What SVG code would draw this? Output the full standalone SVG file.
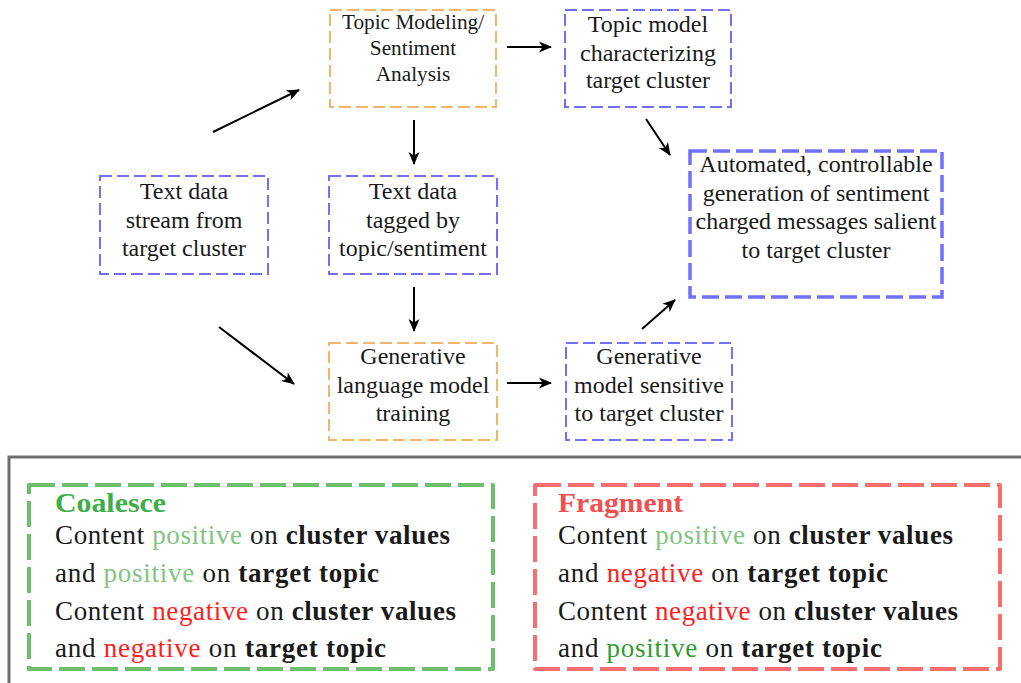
<svg xmlns="http://www.w3.org/2000/svg" width="1021" height="683" viewBox="0 0 1021 683">
<defs>
<marker id="arr" markerUnits="userSpaceOnUse" markerWidth="14" markerHeight="12" refX="12" refY="6" orient="auto">
<path d="M0,0.5 L13,6 L0,11.5 L3.5,6 Z" fill="#000"/>
</marker>
</defs>
<style>
text{font-family:'Liberation Serif','DejaVu Serif',serif}
.t{fill:#1a1a1a;text-anchor:middle}
.s24{font-size:24px}
.s20{font-size:21.3px}
.orange{fill:none;stroke:#f5b46c;stroke-width:2;stroke-dasharray:12 5}
.blue{fill:none;stroke:#7070f8;stroke-width:2;stroke-dasharray:12 5}
.blue3{fill:none;stroke:#7070f8;stroke-width:3.5;stroke-dasharray:17 6}
.con line{stroke:#000;stroke-width:2;marker-end:url(#arr)}
.b{font-size:27px;fill:#1a1a1a}
.bold{font-weight:bold}
.pos{fill:#80c480}
.pos2{fill:#2f9a2f}
.neg{fill:#ff2020}
</style>
<rect width="1021" height="683" fill="#fff"/>

<g id="n_topicmod">
<rect class="orange" x="330" y="10" width="166" height="97"/>
<text class="t s20" x="413" y="29">Topic Modeling/</text>
<text class="t s20" x="413" y="55">Sentiment</text>
<text class="t s20" x="413" y="81">Analysis</text>
</g>
<g id="n_topicmodel">
<rect class="blue" x="565" y="10" width="166" height="97"/>
<text class="t s24" x="648" y="32">Topic model</text>
<text class="t s24" x="648" y="61">characterizing</text>
<text class="t s24" x="648" y="88">target cluster</text>
</g>
<g id="n_stream">
<rect class="blue" x="100" y="176" width="168" height="98"/>
<text class="t s24" x="184" y="199">Text data</text>
<text class="t s24" x="184" y="228">stream from</text>
<text class="t s24" x="184" y="256">target cluster</text>
</g>
<g id="n_tagged">
<rect class="blue" x="329" y="176" width="168" height="98"/>
<text class="t s24" x="413" y="199">Text data</text>
<text class="t s24" x="413" y="228">tagged by</text>
<text class="t s24" x="413" y="256">topic/sentiment</text>
</g>
<g id="n_genlm">
<rect class="orange" x="329" y="343" width="168" height="97"/>
<text class="t s24" x="413" y="364">Generative</text>
<text class="t s24" x="413" y="393">language model</text>
<text class="t s24" x="413" y="421">training</text>
</g>
<g id="n_gensens">
<rect class="blue" x="566" y="343" width="166" height="97"/>
<text class="t s24" x="649" y="364">Generative</text>
<text class="t s24" x="649" y="393">model sensitive</text>
<text class="t s24" x="649" y="421">to target cluster</text>
</g>
<g id="n_auto">
<rect class="blue3" x="690" y="151" width="252" height="146"/>
<text class="t s24" x="816" y="172">Automated, controllable</text>
<text class="t s24" x="816" y="201">generation of sentiment</text>
<text class="t s24" x="816" y="229">charged messages salient</text>
<text class="t s24" x="816" y="258">to target cluster</text>
</g>

<g id="connectors" class="con">
<line x1="213" y1="132" x2="299" y2="90"/>
<line x1="219" y1="327" x2="294" y2="384"/>
<line x1="507" y1="47" x2="551" y2="47"/>
<line x1="414" y1="120" x2="414" y2="164"/>
<line x1="414" y1="287" x2="414" y2="331"/>
<line x1="507" y1="383" x2="551" y2="383"/>
<line x1="646" y1="119" x2="670" y2="155"/>
<line x1="642" y1="329" x2="675" y2="300"/>
</g>

<g id="legend">
<rect x="9" y="457" width="1030" height="250" fill="none" stroke="#6e6e6e" stroke-width="3"/>
</g>
<g id="coalesce">
<rect x="29" y="485" width="464" height="184" fill="none" stroke="#6cc06c" stroke-width="4" stroke-dasharray="26 7" stroke-linejoin="round"/>
<text class="b bold" x="55" y="512" style="fill:#3fae49" textLength="111" lengthAdjust="spacingAndGlyphs">Coalesce</text>
<text class="b" x="55" y="544" textLength="395">Content <tspan class="pos">positive</tspan> on <tspan class="bold">cluster values</tspan></text>
<text class="b" x="55" y="582" textLength="324">and <tspan class="pos">positive</tspan> on <tspan class="bold">target topic</tspan></text>
<text class="b" x="55" y="620" textLength="401">Content <tspan class="neg">negative</tspan> on <tspan class="bold">cluster values</tspan></text>
<text class="b" x="55" y="657" textLength="331">and <tspan class="neg">negative</tspan> on <tspan class="bold">target topic</tspan></text>
</g>
<g id="fragment">
<rect x="535" y="485" width="465" height="184" fill="none" stroke="#f76e6e" stroke-width="4" stroke-dasharray="26 7" stroke-linejoin="round"/>
<text class="b bold" x="558" y="512" style="fill:#f05050" textLength="125" lengthAdjust="spacingAndGlyphs">Fragment</text>
<text class="b" x="558" y="544" textLength="395">Content <tspan class="pos">positive</tspan> on <tspan class="bold">cluster values</tspan></text>
<text class="b" x="558" y="582" textLength="330">and <tspan class="neg">negative</tspan> on <tspan class="bold">target topic</tspan></text>
<text class="b" x="558" y="620" textLength="400">Content <tspan class="neg">negative</tspan> on <tspan class="bold">cluster values</tspan></text>
<text class="b" x="558" y="657" textLength="324">and <tspan class="pos2">positive</tspan> on <tspan class="bold">target topic</tspan></text>
</g>
</svg>
